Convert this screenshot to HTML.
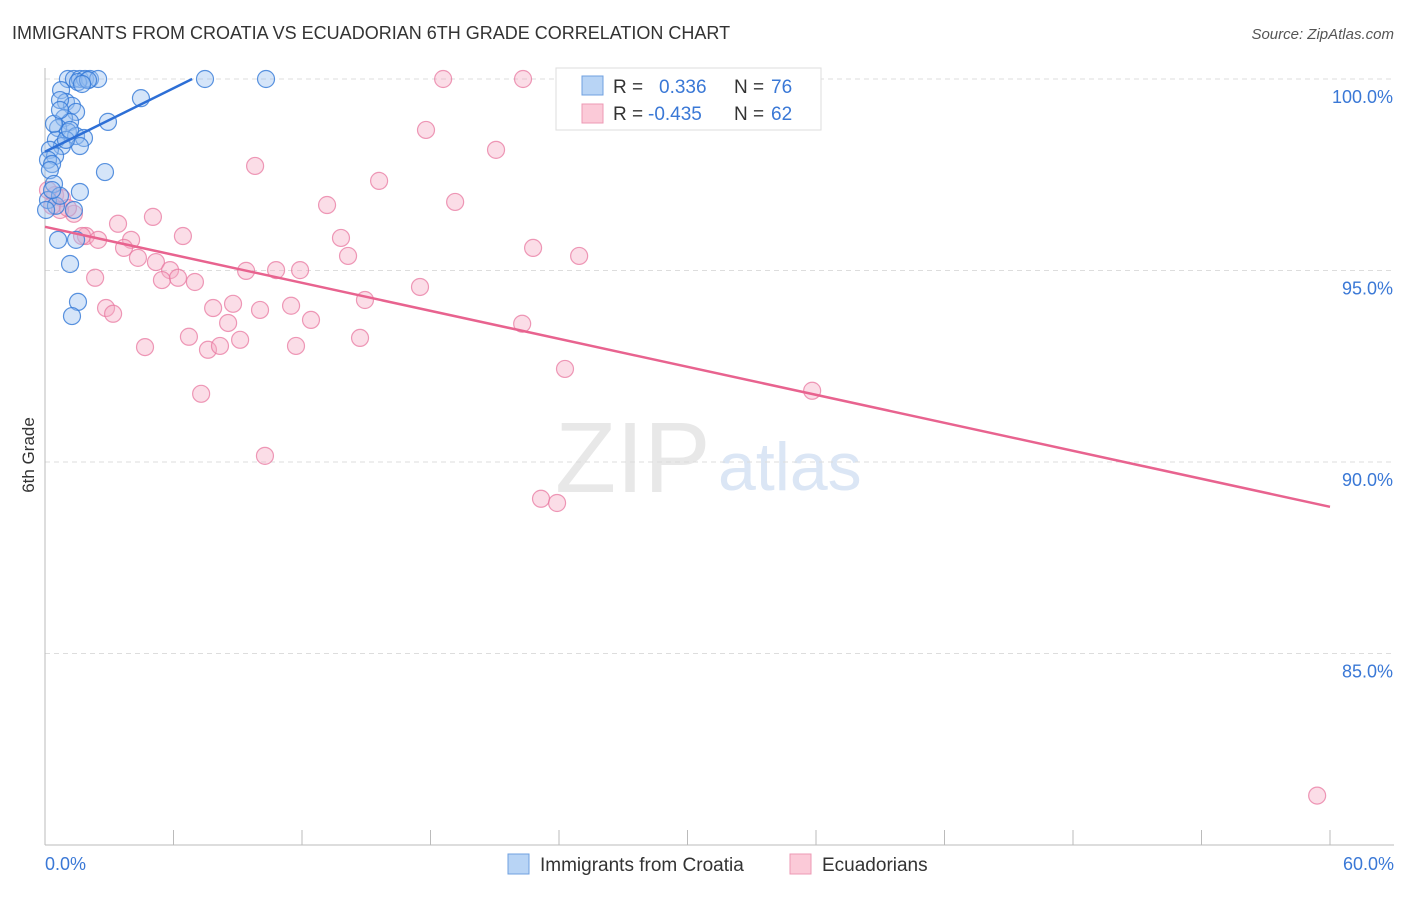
<!DOCTYPE html>
<html><head><meta charset="utf-8"><style>
body{margin:0;background:#fff;font-family:"Liberation Sans",sans-serif;}
svg text{font-family:"Liberation Sans",sans-serif;}
</style></head><body>
<svg id="chart" width="1406" height="892">
<text x="12" y="39" font-size="18" fill="#333">IMMIGRANTS FROM CROATIA VS ECUADORIAN 6TH GRADE CORRELATION CHART</text>
<text x="1394" y="39" font-size="15" fill="#555" font-style="italic" text-anchor="end">Source: ZipAtlas.com</text>
<text x="34" y="455" font-size="17" fill="#333" transform="rotate(-90 34 455)" text-anchor="middle">6th Grade</text>
<text x="555" y="492" font-size="100" fill="#e8e8e8" font-family="Liberation Serif">ZIP</text>
<text x="718" y="490" font-size="68" fill="#dbe6f5">atlas</text>
<g id="grid"></g><g id="axes"></g><g id="pts"></g><g id="trend"></g>
<g>
<rect x="556" y="68" width="265" height="62" fill="#fff" stroke="#ddd"/>
<rect x="582" y="76" width="21" height="19" fill="#b8d4f5" stroke="#6fa0e0"/>
<rect x="582" y="104" width="21" height="19" fill="#fbcad8" stroke="#ec99b4"/>
<text x="613" y="93" font-size="19" fill="#333">R = </text><text x="659" y="93" font-size="19" fill="#3a78d6">0.336</text>
<text x="734" y="93" font-size="19" fill="#333">N = </text><text x="771" y="93" font-size="19" fill="#3a78d6">76</text>
<text x="613" y="120" font-size="19" fill="#333">R = </text><text x="648" y="120" font-size="19" fill="#3a78d6">-0.435</text>
<text x="734" y="120" font-size="19" fill="#333">N = </text><text x="771" y="120" font-size="19" fill="#3a78d6">62</text>
</g>
<g>
<rect x="508" y="854" width="21" height="20" fill="#b8d4f5" stroke="#6fa0e0"/>
<text x="540" y="871" font-size="19" fill="#333">Immigrants from Croatia</text>
<rect x="790" y="854" width="21" height="20" fill="#fbcad8" stroke="#ec99b4"/>
<text x="822" y="871" font-size="19" fill="#333">Ecuadorians</text>
</g>
</svg>
<script>
const blueX=[1.07,1.35,1.63,1.87,2.10,2.48,1.54,7.47,10.32,4.48,2.94,0.75,0.98,1.26,0.70,1.45,0.89,1.17,0.61,1.07,1.45,1.82,0.51,0.79,1.63,0.23,0.47,0.14,0.33,0.23,2.80,0.42,1.63,0.14,0.51,0.70,0.05,1.35,0.61,1.45,1.17,1.54,1.26,0.33,0.98,1.17,0.42,0.70,2.01,1.73];
const blueY=[100,100,100,100,100,100,99.92,100,100,99.5,98.88,99.71,99.4,99.3,99.45,99.14,98.98,98.88,98.72,98.62,98.51,98.46,98.41,98.25,98.25,98.15,97.99,97.89,97.78,97.62,97.57,97.26,97.05,96.84,96.69,96.95,96.58,96.58,95.8,95.8,95.17,94.18,93.81,97.1,98.41,98.67,98.83,99.19,99.97,99.87];
const pinkX=[18.59,22.32,17.79,21.06,9.81,15.6,19.15,13.17,13.82,14.15,22.79,24.94,17.51,14.94,22.28,24.28,35.82,10.27,23.16,23.91,59.4,5.04,3.41,6.44,1.91,2.48,4.02,3.69,4.34,5.18,5.84,5.46,6.21,7.0,9.39,10.79,11.91,2.34,2.85,3.18,7.85,8.78,10.04,11.49,12.42,8.55,6.72,9.11,11.72,14.71,4.67,7.61,8.17,7.29,0.47,0.79,1.35,0.70,0.33,0.14,1.07,1.73];
const pinkY=[100,100,98.67,98.15,97.73,97.34,96.79,96.71,95.85,95.38,95.59,95.38,94.57,94.23,93.61,92.43,91.86,90.16,89.04,88.93,81.29,96.4,96.22,95.9,95.9,95.8,95.8,95.59,95.33,95.22,95.01,94.75,94.81,94.7,94.99,95.01,95.01,94.81,94.02,93.87,94.02,94.13,93.97,94.08,93.71,93.63,93.27,93.19,93.03,93.24,93.0,92.93,93.03,91.78,96.97,96.89,96.48,96.58,96.69,97.1,96.63,95.9];
const blueTrendX=[0,6.87], blueTrendY=[98.1,100];
const pinkTrendX=[0,60], pinkTrendY=[96.14,88.83];
const yTicks=[100,95,90,85];
const yTickLabels=["100.0%","95.0%","90.0%","85.0%"];
const xTicks=[0,5,10,15,20,25,30,35,40,45,50,55,60];
const xs=v=>45+v/60*1285, ys=v=>79+(100-v)*38.3;
const NS="http://www.w3.org/2000/svg";
function mk(tag,parent,attrs){const e=document.createElementNS(NS,tag);for(const k in attrs)e.setAttribute(k,attrs[k]);document.getElementById(parent).appendChild(e);return e;}
yTicks.forEach((t,i)=>{
 const l=mk('line','grid',{x1:45,x2:1394,y1:ys(t),y2:ys(t),stroke:'#ddd','stroke-dasharray':'5,4'});
 
 
 const tx=mk('text','grid',{x:1393,y:ys(t)+24,'font-size':18,fill:'#3a78d6','text-anchor':'end'});
 tx.textContent=yTickLabels[i];
 
 
});
const ax=mk('line','axes',{x1:45,x2:45,y1:68,y2:845,stroke:'#bbb'});


const bx=mk('line','axes',{x1:45,x2:1394,y1:845,y2:845,stroke:'#bbb'});


for(let i=0;i<=10;i++){const x=45+i*128.5;const t=mk('line','axes',{x1:x,x2:x,y1:830,y2:845,stroke:'#bbb'});
 
 }
[[0,"0.0%",'start',45],[60,"60.0%",'end',1394]].forEach(d=>{const t=mk('text','axes',{x:d[3],y:870,'font-size':18,fill:'#3a78d6','text-anchor':d[2]});t.textContent=d[1];
 
 });
pinkX.forEach((v,i)=>{const c=mk('circle','pts',{cx:xs(v),cy:ys(pinkY[i]),r:8.5,fill:'rgba(246,170,195,0.4)',stroke:'rgba(232,120,160,0.75)','stroke-width':1.2});
 
 });
blueX.forEach((v,i)=>{const c=mk('circle','pts',{cx:xs(v),cy:ys(blueY[i]),r:8.5,fill:'rgba(150,190,240,0.4)',stroke:'rgba(50,120,215,0.8)','stroke-width':1.2});
 
 });
const bl=mk('line','trend',{x1:xs(blueTrendX[0]),y1:ys(blueTrendY[0]),x2:xs(blueTrendX[1]),y2:ys(blueTrendY[1]),stroke:'#2d6fd6','stroke-width':2.5});


const pl=mk('line','trend',{x1:xs(pinkTrendX[0]),y1:ys(pinkTrendY[0]),x2:xs(pinkTrendX[1]),y2:ys(pinkTrendY[1]),stroke:'#e8638f','stroke-width':2.5});


</script>
</body></html>
